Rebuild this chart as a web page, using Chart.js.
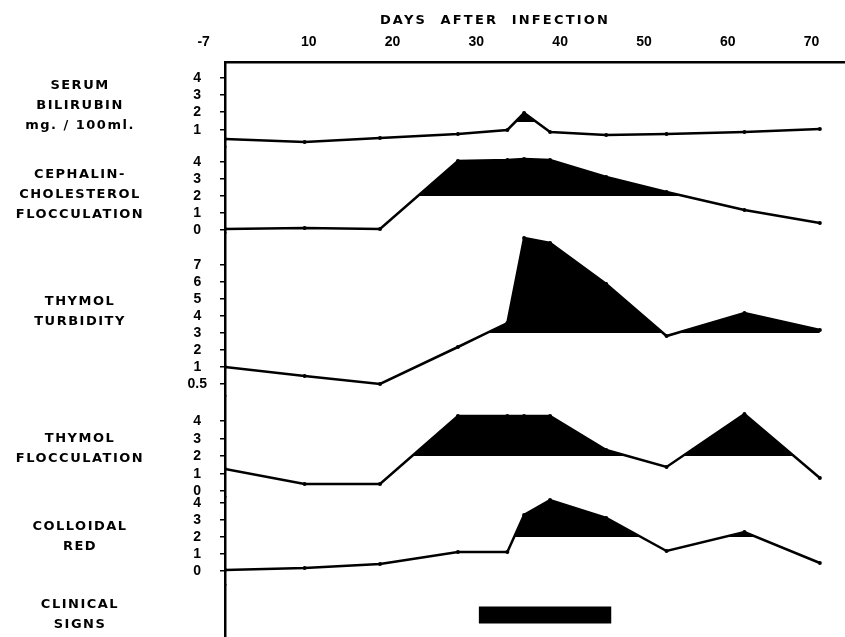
<!DOCTYPE html>
<html>
<head>
<meta charset="utf-8">
<script src="https://cdn.jsdelivr.net/npm/chart.js@4.4.1/dist/chart.umd.min.js"></script>
<style>
  html, body { margin: 0; padding: 0; background: #fff; }
  #wrap { width: 845px; height: 637px; }
</style>
</head>
<body>
<div id="wrap"><canvas id="liverChart" width="845" height="637"></canvas></div>
<script>
// Sample days on the top axis (the first sample is the pre-infection one, shown as -7)
const SAMPLE_DAYS = [0, 9.5, 18.5, 27.8, 33.7, 35.7, 38.8, 45.5, 52.7, 62, 71];
const DAY_TICKS = [0, 10, 20, 30, 40, 50, 60, 70];
const DAY_LABELS = ['-7', '10', '20', '30', '40', '50', '60', '70'];

// Test results per sample day
const BILIRUBIN = [0.45, 0.3, 0.5, 0.75, 1.0, 1.95, 0.9, 0.7, 0.75, 0.9, 1.05];
const CEPHALIN = [0.05, 0.1, 0.05, 4.05, 4.1, 4.15, 4.1, 3.1, 2.25, 1.2, 0.4];
const TURBIDITY = [1.0, 0.75, 0.5, 2.2, 3.6, 8.6, 8.3, 5.9, 2.8, 4.15, 3.15];
const FLOCCULATION = [1.25, 0.4, 0.4, 4.3, 4.3, 4.3, 4.3, 2.35, 1.35, 4.4, 0.75];
const COLLOIDAL_RED = [0.05, 0.2, 0.4, 1.1, 1.1, 3.3, 4.2, 3.1, 1.2, 2.3, 0.45];

// Upper normal limits: the area above them is blacked in
const BILIRUBIN_LIMIT = 1.45;
const CEPHALIN_LIMIT = 2;
const TURBIDITY_LIMIT = 3;
const FLOCCULATION_LIMIT = 2;
const COLLOIDAL_LIMIT = 2;

// Clinical signs period (days)
const CLINICAL_DAYS = [30.3, 46.1];
const CLINICAL_ROW = 1;

// Y tick labels
const BILI_TICKS = [1, 2, 3, 4];
const CEPH_TICKS = [0, 1, 2, 3, 4];
const TURB_TICKS = [0.5, 1, 2, 3, 4, 5, 6, 7];
const FLOC_TICKS = [0, 1, 2, 3, 4];
const RED_TICKS = [0, 1, 2, 3, 4];

const TICK_FONT = { family: 'Liberation Sans', size: 14, weight: 'bold' };
const LABEL_FONT = 'bold 13px "DejaVu Sans"';

// The turbidity axis is squeezed below 1 (0.5 sits one unit under 1)
const warp = v => v >= 1 ? v : 2 * v - 1;
const unwarp = u => u >= 1 ? u : (u + 1) / 2;
const same = v => v;

// Linear panel scale, optionally warped, snapping to whole pixels so the
// black fills meet their limit line without a grey seam
class PanelScale extends Chart.LinearScale {
    getPixelForValue(value) {
        if (value === null || isNaN(value)) return NaN;
        const f = this.options.warped ? warp : same;
        const a = f(this.min), b = f(this.max);
        return Math.round(this.getPixelForDecimal((f(value) - a) / (b - a)));
    }
    getValueForPixel(pixel) {
        const f = this.options.warped ? warp : same;
        const g = this.options.warped ? unwarp : same;
        const a = f(this.min), b = f(this.max);
        return g(a + this.getDecimalForPixel(pixel) * (b - a));
    }
}
PanelScale.id = 'panel';
PanelScale.defaults = Chart.LinearScale.defaults;
Chart.register(PanelScale);

// One stacked panel axis. height = panel height in px, ppu = px per unit,
// offset = px from panel top down to the limit line
function panelAxis(cfg) {
    const fwd = cfg.warped ? warp : same;
    const back = cfg.warped ? unwarp : same;
    let min = cfg.min, max = cfg.max;
    if (cfg.limit !== undefined) {
        const top = fwd(cfg.limit) + cfg.offset / cfg.ppu;
        max = back(top);
        min = back(top - cfg.height / cfg.ppu);
    }
    return {
        type: 'panel',
        warped: !!cfg.warped,
        position: 'left',
        stack: 'panels',
        stackWeight: cfg.height,
        min: min,
        max: max,
        bounds: 'data',
        border: { display: true, color: '#000', width: 2.5 },
        grid: { drawOnChartArea: false, drawTicks: true, tickLength: 5, color: '#000', lineWidth: 1.5 },
        ticks: { autoSkip: false, padding: cfg.padding, crossAlign: 'center', color: '#000', font: TICK_FONT },
        afterBuildTicks: s => { s.ticks = cfg.ticks.map(v => ({ value: v })); },
        afterFit: s => {
            s.width = 44;
            s.paddingTop = 0;
            s.paddingBottom = 0;
        }
    };
}

function series(values, axisId, limit) {
    return {
        data: SAMPLE_DAYS.map((d, i) => ({ x: d, y: values[i] })),
        yAxisID: axisId,
        borderColor: '#000',
        backgroundColor: '#000',
        borderWidth: 2.5,
        pointRadius: 2,
        pointBackgroundColor: '#000',
        pointBorderWidth: 0,
        fill: { target: { value: limit }, above: '#000', below: 'rgba(0,0,0,0)' }
    };
}

const PANEL_LABELS = [
    { axis: 'yBili', lines: ['SERUM', 'BILIRUBIN', 'mg. / 100ml.'], dy: 1 },
    { axis: 'yCeph', lines: ['CEPHALIN-', 'CHOLESTEROL', 'FLOCCULATION'], dy: 5 },
    { axis: 'yTurb', lines: ['THYMOL', 'TURBIDITY'], dy: -3 },
    { axis: 'yFloc', lines: ['THYMOL', 'FLOCCULATION'], dy: 2 },
    { axis: 'yRed', lines: ['COLLOIDAL', 'RED'], dy: -4 },
    { axis: 'yClin', lines: ['CLINICAL', 'SIGNS'], dy: 4 }
];

// Panel names on the left and the axis heading
const labelPlugin = {
    id: 'panelLabels',
    afterDraw(chart) {
        const ctx = chart.ctx;
        ctx.save();
        ctx.fillStyle = '#000';
        ctx.font = LABEL_FONT;
        ctx.textAlign = 'center';
        ctx.textBaseline = 'middle';
        ctx.letterSpacing = '1.5px';
        PANEL_LABELS.forEach(p => {
            const s = chart.scales[p.axis];
            const mid = (s.top + s.bottom) / 2 + p.dy;
            const start = mid - (p.lines.length - 1) * 10;
            p.lines.forEach((t, i) => ctx.fillText(t, 80, start + i * 20));
        });
        ctx.letterSpacing = '2.2px';
        ctx.fillText('DAYS  AFTER  INFECTION', 495, 21);
        ctx.restore();
    }
};

new Chart(document.getElementById('liverChart'), {
    type: 'line',
    data: {
        datasets: [
            series(BILIRUBIN, 'yBili', BILIRUBIN_LIMIT),
            series(CEPHALIN, 'yCeph', CEPHALIN_LIMIT),
            series(TURBIDITY, 'yTurb', TURBIDITY_LIMIT),
            series(FLOCCULATION, 'yFloc', FLOCCULATION_LIMIT),
            series(COLLOIDAL_RED, 'yRed', COLLOIDAL_LIMIT),
            {
                data: CLINICAL_DAYS.map(d => ({ x: d, y: CLINICAL_ROW })),
                yAxisID: 'yClin',
                borderColor: '#000',
                borderWidth: 17,
                borderCapStyle: 'butt',
                pointRadius: 0,
                fill: false
            }
        ]
    },
    options: {
        responsive: false,
        animation: false,
        layout: { autoPadding: false, padding: { left: 181, right: 0, top: 0, bottom: 0 } },
        elements: { line: { tension: 0 } },
        plugins: { legend: { display: false }, tooltip: { enabled: false } },
        scales: {
            x: {
                type: 'linear',
                position: 'top',
                min: 0,
                max: 74,
                border: { display: true, color: '#000', width: 2.5 },
                grid: { display: false },
                ticks: {
                    autoSkip: false,
                    maxRotation: 0,
                    padding: 3,
                    color: '#000',
                    font: TICK_FONT,
                    // first label sits left of the axis corner
                    callback: v => {
                        const i = DAY_TICKS.indexOf(v);
                        return i === 0 ? DAY_LABELS[0] + '           ' : DAY_LABELS[i];
                    }
                },
                afterBuildTicks: s => { s.ticks = DAY_TICKS.map(v => ({ value: v })); },
                afterFit: s => {
                    s.height = 62;
                    s.paddingLeft = 0;
                    s.paddingRight = 0;
                }
            },
            // stacked panels, listed bottom to top
            yClin: panelAxis({ ticks: [], min: 0, max: 2.4, height: 52, padding: 19 }),
            yRed: panelAxis({ ticks: RED_TICKS, limit: COLLOIDAL_LIMIT, ppu: 17, offset: 40, height: 88, padding: 19 }),
            yFloc: panelAxis({ ticks: FLOC_TICKS, limit: FLOCCULATION_LIMIT, ppu: 17.5, offset: 60, height: 101, padding: 19 }),
            yTurb: panelAxis({ ticks: TURB_TICKS, limit: TURBIDITY_LIMIT, ppu: 17, offset: 100, height: 163, padding: 13, warped: true }),
            yCeph: panelAxis({ ticks: CEPH_TICKS, limit: CEPHALIN_LIMIT, ppu: 17, offset: 49, height: 86, padding: 19 }),
            yBili: panelAxis({ ticks: BILI_TICKS, limit: BILIRUBIN_LIMIT, ppu: 17.3, offset: 60, height: 85, padding: 19 })
        }
    },
    plugins: [labelPlugin]
});
</script>
</body>
</html>
